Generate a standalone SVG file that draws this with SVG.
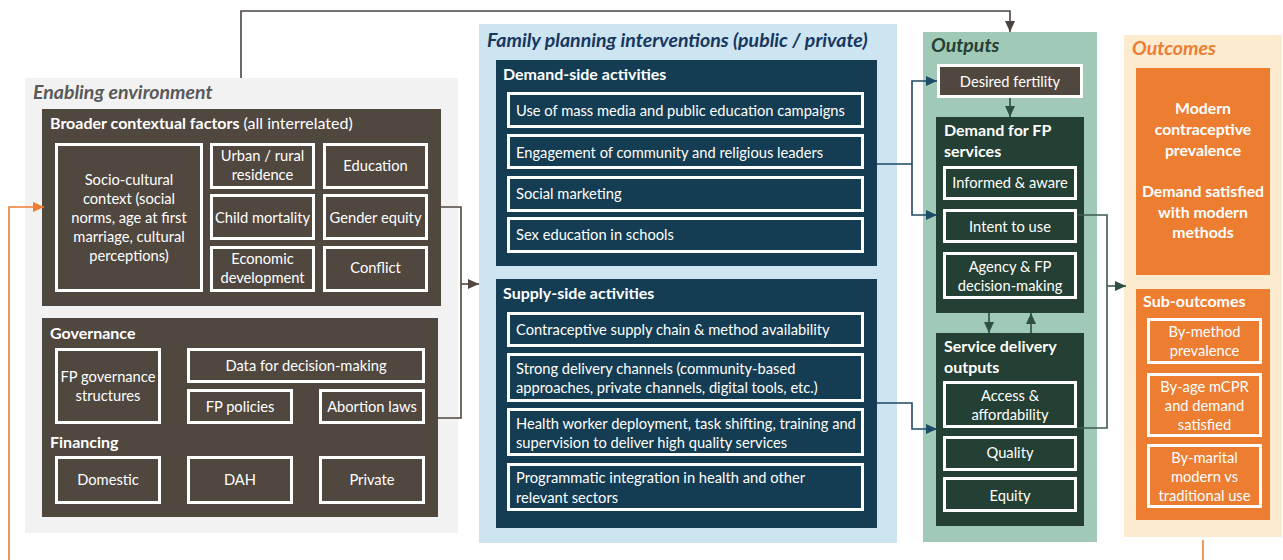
<svg xmlns="http://www.w3.org/2000/svg" width="1283" height="560" viewBox="0 0 1283 560">
  <defs>
    <style>
      text { font-family: Lato, "Open Sans", "Liberation Sans", sans-serif; }
      .ptitle { font-size: 19.5px; font-weight: bold; font-style: italic; }
      .gtitle { font-size: 16px; font-weight: bold; fill: #ffffff; }
      .item { font-size: 14.7px; fill: #ffffff; }
      .mid { text-anchor: middle; }
      .box { stroke: #ffffff; stroke-width: 3; }
      .brown { fill: #50473f; }
      .navy { fill: #143c52; }
      .dgreen { fill: #243f33; }
      .orange { fill: #ed7d31; }
      .conn { fill: none; stroke-width: 1.6; }
      .big { font-size: 15.8px; font-weight: bold; fill: #ffffff; text-anchor: middle; }
    </style>
    <marker id="arrBrown" markerUnits="userSpaceOnUse" markerWidth="12" markerHeight="12" refX="11" refY="6" orient="auto">
      <path d="M0,1 L11,6 L0,11 Z" fill="#50473f"/>
    </marker>
    <marker id="arrGray" markerUnits="userSpaceOnUse" markerWidth="12" markerHeight="12" refX="11" refY="6" orient="auto">
      <path d="M0,1 L11,6 L0,11 Z" fill="#4a4440"/>
    </marker>
    <marker id="arrNavy" markerUnits="userSpaceOnUse" markerWidth="12" markerHeight="12" refX="11" refY="6" orient="auto">
      <path d="M0,1 L11,6 L0,11 Z" fill="#1d4a66"/>
    </marker>
    <marker id="arrGreen" markerUnits="userSpaceOnUse" markerWidth="12" markerHeight="12" refX="11" refY="6" orient="auto">
      <path d="M0,1 L11,6 L0,11 Z" fill="#2f4f42"/>
    </marker>
    <marker id="arrOrange" markerUnits="userSpaceOnUse" markerWidth="12" markerHeight="12" refX="11" refY="6" orient="auto">
      <path d="M0,1 L11,6 L0,11 Z" fill="#ed7d31"/>
    </marker>
  </defs>

  <rect width="1283" height="560" fill="#ffffff"/>

  <!-- Enabling environment -->
  <g id="enabling-environment">
    <rect x="25" y="78" width="433" height="455" fill="#f2f2f2"/>
    <text x="33" y="99" class="ptitle" fill="#595959">Enabling environment</text>
  </g>

  <g id="broader-contextual-factors">
    <rect x="42" y="109" width="399" height="197" class="brown"/>
    <text x="50" y="129" class="gtitle">Broader contextual factors<tspan font-weight="normal"> (all interrelated)</tspan></text>
  </g>
  <g id="socio-cultural">
    <rect x="56.5" y="144.5" width="145" height="146" class="box brown"/>
    <text class="item mid" x="129" y="185">Socio-cultural</text>
    <text class="item mid" x="129" y="204">context (social</text>
    <text class="item mid" x="129" y="223">norms, age at first</text>
    <text class="item mid" x="129" y="242">marriage, cultural</text>
    <text class="item mid" x="129" y="261">perceptions)</text>
  </g>
  <g id="urban-rural">
    <rect x="211.5" y="144.5" width="102" height="43" class="box brown"/>
    <text class="item mid" x="262.5" y="161">Urban / rural</text>
    <text class="item mid" x="262.5" y="180">residence</text>
  </g>
  <g id="education">
    <rect x="324.5" y="144.5" width="102" height="43" class="box brown"/>
    <text class="item mid" x="375.5" y="171">Education</text>
  </g>
  <g id="child-mortality">
    <rect x="211.5" y="195.5" width="102" height="43" class="box brown"/>
    <text class="item mid" x="262.5" y="223">Child mortality</text>
  </g>
  <g id="gender-equity">
    <rect x="324.5" y="195.5" width="102" height="43" class="box brown"/>
    <text class="item mid" x="375.5" y="223">Gender equity</text>
  </g>
  <g id="economic-development">
    <rect x="211.5" y="247.5" width="102" height="43" class="box brown"/>
    <text class="item mid" x="262.5" y="264">Economic</text>
    <text class="item mid" x="262.5" y="283">development</text>
  </g>
  <g id="conflict">
    <rect x="324.5" y="247.5" width="102" height="43" class="box brown"/>
    <text class="item mid" x="375.5" y="273">Conflict</text>
  </g>

  <g id="governance-financing">
    <rect x="42" y="318" width="396" height="199" class="brown"/>
    <text x="50" y="339" class="gtitle">Governance</text>
    <text x="50" y="448" class="gtitle">Financing</text>
  </g>
  <g id="fp-governance-structures">
    <rect x="56.5" y="349.5" width="103" height="73" class="box brown"/>
    <text class="item mid" x="108" y="382">FP governance</text>
    <text class="item mid" x="108" y="401">structures</text>
  </g>
  <g id="data-decision-making">
    <rect x="188.5" y="349.5" width="235" height="32" class="box brown"/>
    <text class="item mid" x="306" y="371">Data for decision-making</text>
  </g>
  <g id="fp-policies">
    <rect x="188.5" y="390.5" width="103" height="32" class="box brown"/>
    <text class="item mid" x="240" y="412">FP policies</text>
  </g>
  <g id="abortion-laws">
    <rect x="320.5" y="390.5" width="103" height="32" class="box brown"/>
    <text class="item mid" x="372" y="412">Abortion laws</text>
  </g>
  <g id="domestic">
    <rect x="56.5" y="457.5" width="103" height="45" class="box brown"/>
    <text class="item mid" x="108" y="485">Domestic</text>
  </g>
  <g id="dah">
    <rect x="188.5" y="457.5" width="103" height="45" class="box brown"/>
    <text class="item mid" x="240" y="485">DAH</text>
  </g>
  <g id="private">
    <rect x="320.5" y="457.5" width="103" height="45" class="box brown"/>
    <text class="item mid" x="372" y="485">Private</text>
  </g>

  <!-- Family planning interventions -->
  <g id="fp-interventions">
    <rect x="479" y="24" width="418" height="519" fill="#cde4f1"/>
    <text x="487" y="47" class="ptitle" fill="#17375e">Family planning interventions (public / private)</text>
  </g>
  <g id="demand-side">
    <rect x="496" y="60" width="381" height="206" class="navy"/>
    <text x="503" y="80" class="gtitle">Demand-side activities</text>
  </g>
  <g id="mass-media">
    <rect x="508.5" y="93.5" width="354" height="33" class="box navy"/>
    <text class="item" x="516" y="116">Use of mass media and public education campaigns</text>
  </g>
  <g id="community-leaders">
    <rect x="508.5" y="135.5" width="354" height="32" class="box navy"/>
    <text class="item" x="516" y="158">Engagement of community and religious leaders</text>
  </g>
  <g id="social-marketing">
    <rect x="508.5" y="177.5" width="354" height="33" class="box navy"/>
    <text class="item" x="516" y="199">Social marketing</text>
  </g>
  <g id="sex-education">
    <rect x="508.5" y="218.5" width="354" height="33" class="box navy"/>
    <text class="item" x="516" y="240">Sex education in schools</text>
  </g>

  <g id="supply-side">
    <rect x="496" y="279" width="381" height="249" class="navy"/>
    <text x="503" y="299" class="gtitle">Supply-side activities</text>
  </g>
  <g id="supply-chain">
    <rect x="508.5" y="313.5" width="354" height="32" class="box navy"/>
    <text class="item" x="516" y="335">Contraceptive supply chain &amp; method availability</text>
  </g>
  <g id="delivery-channels">
    <rect x="508.5" y="354.5" width="354" height="46" class="box navy"/>
    <text class="item" x="516" y="374">Strong delivery channels (community-based</text>
    <text class="item" x="516" y="393">approaches, private channels, digital tools, etc.)</text>
  </g>
  <g id="health-worker">
    <rect x="508.5" y="409.5" width="354" height="45" class="box navy"/>
    <text class="item" x="516" y="429">Health worker deployment, task shifting, training and</text>
    <text class="item" x="516" y="448">supervision to deliver high quality services</text>
  </g>
  <g id="programmatic-integration">
    <rect x="508.5" y="464.5" width="354" height="45" class="box navy"/>
    <text class="item" x="516" y="483">Programmatic integration in health and other</text>
    <text class="item" x="516" y="503">relevant sectors</text>
  </g>

  <!-- Outputs -->
  <g id="outputs">
    <rect x="923" y="32" width="174" height="510" fill="#a0cab7"/>
    <text x="931" y="52" class="ptitle" fill="#243f33">Outputs</text>
  </g>
  <g id="desired-fertility">
    <rect x="938.5" y="65.5" width="143" height="31" class="box brown"/>
    <text class="item mid" x="1010" y="87">Desired fertility</text>
  </g>
  <g id="demand-fp-services">
    <rect x="936" y="117" width="148" height="196" class="dgreen"/>
    <text x="944" y="136" class="gtitle">Demand for FP</text>
    <text x="944" y="157" class="gtitle">services</text>
  </g>
  <g id="informed-aware">
    <rect x="944.5" y="167.5" width="131" height="31" class="box dgreen"/>
    <text class="item mid" x="1010" y="188">Informed &amp; aware</text>
  </g>
  <g id="intent-to-use">
    <rect x="944.5" y="210.5" width="131" height="31" class="box dgreen"/>
    <text class="item mid" x="1010" y="232">Intent to use</text>
  </g>
  <g id="agency-decision-making">
    <rect x="944.5" y="253.5" width="131" height="44" class="box dgreen"/>
    <text class="item mid" x="1010" y="272">Agency &amp; FP</text>
    <text class="item mid" x="1010" y="291">decision-making</text>
  </g>
  <g id="service-delivery-outputs">
    <rect x="936" y="333" width="148" height="193" class="dgreen"/>
    <text x="944" y="352" class="gtitle">Service delivery</text>
    <text x="944" y="373" class="gtitle">outputs</text>
  </g>
  <g id="access-affordability">
    <rect x="944.5" y="382.5" width="131" height="44" class="box dgreen"/>
    <text class="item mid" x="1010" y="401">Access &amp;</text>
    <text class="item mid" x="1010" y="420">affordability</text>
  </g>
  <g id="quality">
    <rect x="944.5" y="437.5" width="131" height="32" class="box dgreen"/>
    <text class="item mid" x="1010" y="458">Quality</text>
  </g>
  <g id="equity">
    <rect x="944.5" y="478.5" width="131" height="32" class="box dgreen"/>
    <text class="item mid" x="1010" y="501">Equity</text>
  </g>

  <!-- Outcomes -->
  <g id="outcomes">
    <rect x="1124" y="35" width="158" height="502" fill="#fdebd0"/>
    <text x="1132" y="55" class="ptitle" fill="#ed7d31">Outcomes</text>
  </g>
  <g id="main-outcomes">
    <rect x="1136" y="68" width="134" height="207" class="orange"/>
    <text class="big" x="1203" y="114">Modern</text>
    <text class="big" x="1203" y="135">contraceptive</text>
    <text class="big" x="1203" y="156">prevalence</text>
    <text class="big" x="1203" y="197">Demand satisfied</text>
    <text class="big" x="1203" y="218">with modern</text>
    <text class="big" x="1203" y="238">methods</text>
  </g>
  <g id="sub-outcomes">
    <rect x="1136" y="289" width="134" height="231" class="orange"/>
    <text x="1143" y="307" class="gtitle">Sub-outcomes</text>
  </g>
  <g id="by-method">
    <rect x="1148.5" y="319.5" width="112" height="43" class="box orange"/>
    <text class="item mid" x="1204.5" y="337">By-method</text>
    <text class="item mid" x="1204.5" y="356">prevalence</text>
  </g>
  <g id="by-age">
    <rect x="1148.5" y="374.5" width="112" height="61" class="box orange"/>
    <text class="item mid" x="1204.5" y="392">By-age mCPR</text>
    <text class="item mid" x="1204.5" y="411">and demand</text>
    <text class="item mid" x="1204.5" y="430">satisfied</text>
  </g>
  <g id="by-marital">
    <rect x="1148.5" y="445.5" width="112" height="61" class="box orange"/>
    <text class="item mid" x="1204.5" y="463">By-marital</text>
    <text class="item mid" x="1204.5" y="482">modern vs</text>
    <text class="item mid" x="1204.5" y="501">traditional use</text>
  </g>

  <!-- Connectors -->
  <g id="connectors">
    <path class="conn" stroke="#4a4440" d="M241,78 V11 H1010 V32" marker-end="url(#arrGray)"/>
    <path class="conn" stroke="#50473f" d="M441,207 H461 V418 H438"/>
    <path class="conn" stroke="#50473f" d="M461,284 H479" marker-end="url(#arrBrown)"/>
    <path class="conn" stroke="#1d4a66" d="M877,164 H912 V81 H937" marker-end="url(#arrNavy)"/>
    <path class="conn" stroke="#1d4a66" d="M912,164 V215 H937" marker-end="url(#arrNavy)"/>
    <path class="conn" stroke="#1d4a66" d="M877,403 H912 V429 H937" marker-end="url(#arrNavy)"/>
    <path class="conn" stroke="#2f4f42" d="M1010,98 V117" marker-end="url(#arrGreen)"/>
    <path class="conn" stroke="#2f4f42" d="M989,313 V333" marker-end="url(#arrGreen)"/>
    <path class="conn" stroke="#2f4f42" d="M1031,333 V313" marker-end="url(#arrGreen)"/>
    <path class="conn" stroke="#3b5b4d" d="M1077,215 H1107 V428 H1077"/>
    <path class="conn" stroke="#3b5b4d" d="M1107,286 H1126" marker-end="url(#arrGreen)"/>
    <path class="conn" stroke="#ed7d31" d="M1203,540 V560"/>
    <path class="conn" stroke="#ed7d31" d="M9,560 V207 H44" marker-end="url(#arrOrange)"/>
  </g>
</svg>
